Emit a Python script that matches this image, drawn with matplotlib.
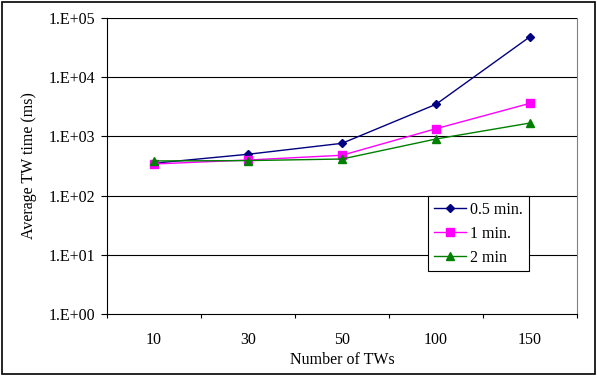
import numpy as np
import matplotlib as mpl
import matplotlib.pyplot as plt
from matplotlib.patches import Rectangle
from matplotlib.ticker import FixedLocator, NullFormatter, FixedFormatter

mpl.rcParams.update({
    "font.family": ["Liberation Serif", "DejaVu Serif"],
    "font.size": 11.5,
})

# data
categories = ["10", "30", "50", "100", "150"]
half_min = [352, 499, 764, 3485, 48300]
one_min = [342, 399, 480, 1349, 3622]
two_min = [385, 390, 415, 904, 1683]
y_ticks = [1e0, 1e1, 1e2, 1e3, 1e4, 1e5]
y_labels = ["1.E+00", "1.E+01", "1.E+02", "1.E+03", "1.E+04", "1.E+05"]

fig = plt.figure(figsize=(5.97, 3.76), dpi=100)
ax = fig.add_axes([107 / 597, 1 - 314 / 376, 470 / 597, 296 / 376])

x = np.arange(len(categories))

ax.plot(x, half_min, color="#000080", marker="D", markersize=4, linewidth=1.0, label="0.5 min.")
ax.plot(x, one_min, color="#FF00FF", marker="s", markersize=5.5, linewidth=1.0, label="1 min.")
ax.plot(x, two_min, color="#008000", marker="^", markersize=5.5, linewidth=1.0, label="2 min")

ax.set_yscale("log")
ax.set_ylim(1, 1e5)
ax.set_xlim(-0.5, len(categories) - 0.5)

ax.yaxis.set_major_locator(FixedLocator(y_ticks))
ax.yaxis.set_major_formatter(FixedFormatter(y_labels))
ax.yaxis.set_minor_locator(FixedLocator([]))
ax.tick_params(axis="y", which="major", direction="out", length=4.5, width=0.8, pad=4)

# ticks at category boundaries, labels in the middle
ax.xaxis.set_major_locator(FixedLocator(np.arange(len(categories) + 1) - 0.5))
ax.xaxis.set_major_formatter(NullFormatter())
ax.xaxis.set_minor_locator(FixedLocator(x))
ax.xaxis.set_minor_formatter(FixedFormatter(categories))
ax.tick_params(axis="x", which="major", direction="out", length=3, width=0.8)
ax.tick_params(axis="x", which="minor", length=0, pad=13)

for yv in y_ticks[1:]:
    ax.axhline(yv, color="black", linewidth=0.8, zorder=0.5)

ax.spines["top"].set_visible(False)
ax.spines["right"].set_color("#808080")
ax.spines["left"].set_linewidth(0.8)
ax.spines["bottom"].set_linewidth(0.8)

ax.set_xlabel("Number of TWs", labelpad=3)
ax.set_ylabel("Average TW time (ms)", labelpad=8)

leg = ax.legend(loc="upper left", bbox_to_anchor=((428 - 107) / 470, (314 - 196) / 296),
                fancybox=False, framealpha=1, edgecolor="black", borderpad=0.35,
                borderaxespad=0, handlelength=2.0, handletextpad=0.3, labelspacing=0.5)
leg.get_frame().set_linewidth(0.8)

fig.patches.append(Rectangle((2 / 597, 2 / 376), 593 / 597, 372 / 376, transform=fig.transFigure,
                             fill=False, edgecolor="black", linewidth=1.2))

fig.savefig("out.png", dpi=100)
